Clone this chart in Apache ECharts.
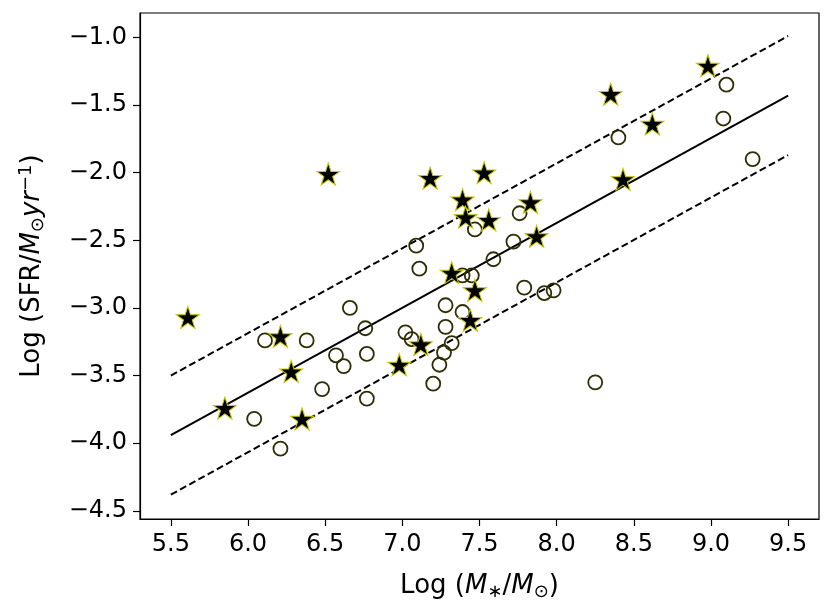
<!DOCTYPE html>
<html>
<head>
<meta charset="utf-8">
<script src="https://cdn.jsdelivr.net/npm/echarts@6/dist/echarts.min.js"></script>
<style>
  html, body { margin: 0; padding: 0; background: #fff; }
  #chart { width: 831px; height: 612px; }
</style>
</head>
<body>
<div id="chart"></div>
<script>
// open circles
var circleX = [6.11, 6.38, 6.04, 6.21, 6.48, 6.57, 6.62, 6.66, 6.76, 6.77, 6.77, 7.02,
               7.06, 7.11, 7.20, 7.24, 7.27, 7.32, 7.28, 7.28, 7.39, 7.39, 7.45, 7.09,
               7.47, 7.76, 7.72, 7.59, 7.79, 7.92, 7.98, 9.10, 9.08, 9.27, 8.40, 8.25];
var circleY = [-3.24, -3.24, -3.82, -4.04, -3.60, -3.35, -3.43, -3.00, -3.15, -3.34, -3.67, -3.18,
               -3.23, -2.71, -3.56, -3.42, -3.33, -3.26, -3.14, -2.98, -3.03, -2.76, -2.76, -2.54,
               -2.42, -2.30, -2.51, -2.64, -2.85, -2.89, -2.87, -1.35, -1.60, -1.90, -1.74, -3.55];

// filled stars
var starX = [5.61, 5.85, 6.21, 6.28, 6.35, 6.52, 7.18, 6.98, 7.12, 7.39, 7.41,
             7.53, 7.56, 7.83, 7.87, 7.32, 7.47, 7.44, 8.98, 8.35, 8.62, 8.43];
var starY = [-3.07, -3.74, -3.21, -3.47, -3.82, -2.01, -2.04, -3.42, -3.27, -2.20, -2.33,
             -2.00, -2.35, -2.22, -2.47, -2.74, -2.87, -3.09, -1.21, -1.42, -1.64, -2.05];

// fit line and +/- band
var lineX = [5.5, 9.5];
var fitY = [-3.94, -1.43];
var upperY = [-3.50, -0.99];
var lowerY = [-4.38, -1.87];

var xTicks = [5.5, 6.0, 6.5, 7.0, 7.5, 8.0, 8.5, 9.0, 9.5];
var yTicks = [-4.5, -4.0, -3.5, -3.0, -2.5, -2.0, -1.5, -1.0];

function pairs(xs, ys) {
    var out = [];
    for (var i = 0; i < xs.length; i++) {
        out.push([xs[i], ys[i]]);
    }
    return out;
}

function fmt(v) {
    return v.toFixed(1).replace('-', '\u2212');
}

var starPath = 'path://M50 0 L61.23 34.55 L97.55 34.55 L68.17 55.9 L79.39 90.45 L50 69.1 L20.61 90.45 L31.83 55.9 L2.45 34.55 L38.77 34.55 Z';

var chart = echarts.init(document.getElementById('chart'));

function richFor(size) {
    return {
        it: { fontFamily: 'DejaVu Sans', fontStyle: 'italic', fontSize: size, color: '#000' },
        sub: { fontFamily: 'DejaVu Sans', fontSize: Math.round(size * 0.7), color: '#000', padding: [Math.round(size * 0.45), 0, 0, 0] },
        sup: { fontFamily: 'DejaVu Sans', fontSize: Math.round(size * 0.7), color: '#000', padding: [0, 0, Math.round(size * 0.5), 0] },
        n: { fontFamily: 'DejaVu Sans', fontSize: size, color: '#000' }
    };
}

var option = {
    animation: false,
    backgroundColor: '#fff',
    grid: {
        left: 140,
        right: 12,
        top: 13,
        bottom: 93,
        show: true,
        borderColor: '#000',
        borderWidth: 1.2,
        backgroundColor: 'transparent'
    },
    xAxis: {
        type: 'value',
        min: 5.3,
        max: 9.7,
        name: '{n|Log (}{it|M}{sub|\u2217}{n|/}{it|M}{sub|\u2299}{n|)}',
        nameLocation: 'middle',
        nameGap: 52,
        nameTextStyle: { rich: richFor(26) },
        splitLine: { show: false },
        axisLine: { show: true, lineStyle: { color: '#000', width: 1.2 } },
        axisTick: { show: true, length: 7, customValues: xTicks, lineStyle: { color: '#000', width: 1.2 } },
        axisLabel: {
            customValues: xTicks,
            formatter: fmt,
            color: '#000',
            fontFamily: 'DejaVu Sans',
            fontSize: 24,
            margin: 14
        }
    },
    yAxis: {
        type: 'value',
        min: -4.56,
        max: -0.82,
        name: '{n|Log (SFR/}{it|M}{sub|\u2299}{it|yr}{sup|\u22121}{n|)}',
        nameLocation: 'middle',
        nameGap: 92,
        nameRotate: 90,
        nameTextStyle: { rich: richFor(26) },
        splitLine: { show: false },
        axisLine: { show: true, lineStyle: { color: '#000', width: 1.2 } },
        axisTick: { show: true, length: 7, customValues: yTicks, lineStyle: { color: '#000', width: 1.2 } },
        axisLabel: {
            customValues: yTicks,
            formatter: fmt,
            color: '#000',
            fontFamily: 'DejaVu Sans',
            fontSize: 24,
            margin: 13
        }
    },
    series: [
        {
            type: 'line',
            data: pairs(lineX, fitY),
            symbol: 'none',
            lineStyle: { color: '#000', width: 2 },
            z: 2
        },
        {
            type: 'line',
            data: pairs(lineX, upperY),
            symbol: 'none',
            lineStyle: { color: '#000', width: 2, type: [7, 3.5] },
            z: 2
        },
        {
            type: 'line',
            data: pairs(lineX, lowerY),
            symbol: 'none',
            lineStyle: { color: '#000', width: 2, type: [7, 3.5] },
            z: 2
        },
        {
            type: 'scatter',
            data: pairs(circleX, circleY),
            symbol: 'circle',
            symbolSize: 14,
            itemStyle: { color: 'rgba(0,0,0,0)', borderColor: '#2e2e05', borderWidth: 1.8, opacity: 1 },
            z: 3
        },
        {
            type: 'scatter',
            data: pairs(starX, starY),
            symbol: starPath,
            symbolSize: [23, 22],
            itemStyle: { color: '#000', borderColor: '#c8c800', borderWidth: 1, opacity: 1 },
            z: 4
        }
    ]
};

chart.setOption(option);
</script>
</body>
</html>
